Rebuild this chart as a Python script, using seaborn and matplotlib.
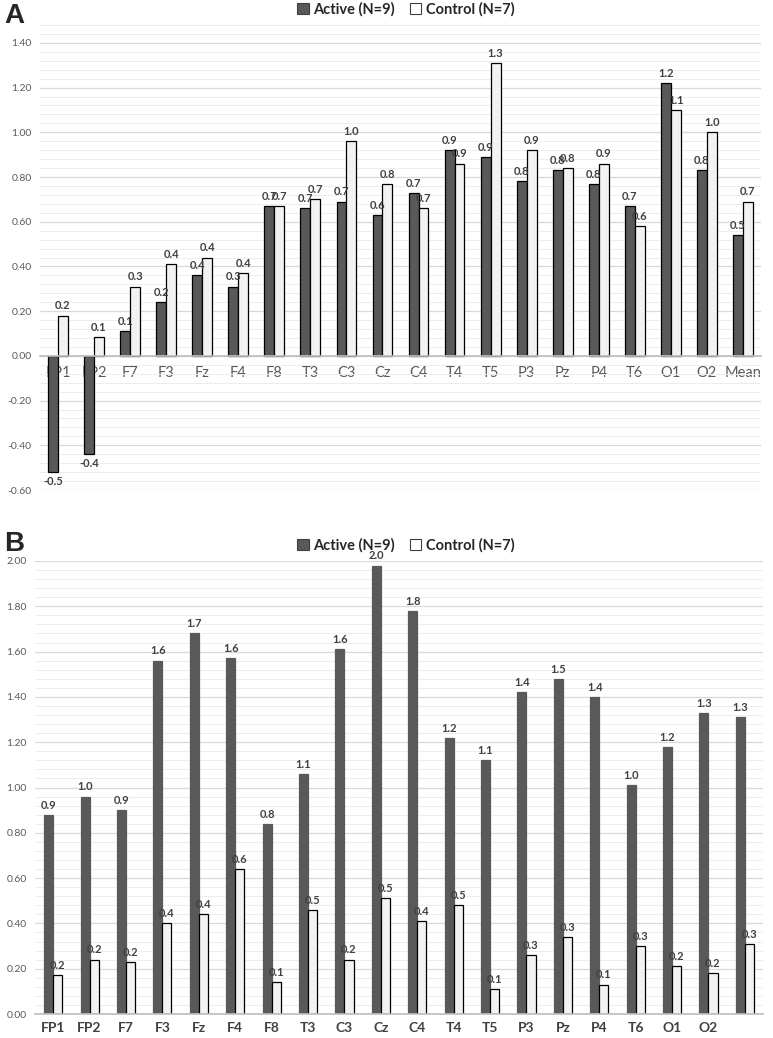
import matplotlib
matplotlib.use("Agg")
import matplotlib.pyplot as plt
from matplotlib.patches import Patch
from matplotlib.ticker import MultipleLocator, FormatStrFormatter
import seaborn as sns
import pandas as pd

sns.set_theme(style="white")
plt.rcParams['font.family'] = ['Lato', 'DejaVu Sans']

groups = ["Active (N=9)", "Control (N=7)"]

# Panel A
cats_a = ["FP1", "FP2", "F7", "F3", "Fz", "F4", "F8", "T3", "C3", "Cz", "C4",
          "T4", "T5", "P3", "Pz", "P4", "T6", "O1", "O2", "Mean"]
active_a = [-0.52, -0.44, 0.11, 0.24, 0.36, 0.31, 0.67, 0.66, 0.69, 0.63, 0.73,
            0.92, 0.89, 0.78, 0.83, 0.77, 0.67, 1.22, 0.83, 0.54]
control_a = [0.18, 0.085, 0.31, 0.41, 0.44, 0.37, 0.67, 0.70, 0.96, 0.77, 0.66,
             0.86, 1.31, 0.92, 0.84, 0.86, 0.58, 1.10, 1.00, 0.69]

# Panel B
cats_b = ["FP1", "FP2", "F7", "F3", "Fz", "F4", "F8", "T3", "C3", "Cz", "C4",
          "T4", "T5", "P3", "Pz", "P4", "T6", "O1", "O2", ""]
active_b = [0.88, 0.96, 0.90, 1.56, 1.68, 1.57, 0.84, 1.06, 1.61, 1.98, 1.78,
            1.22, 1.12, 1.42, 1.48, 1.40, 1.01, 1.18, 1.33, 1.31]
control_b = [0.17, 0.24, 0.23, 0.40, 0.44, 0.64, 0.14, 0.46, 0.24, 0.51, 0.41,
             0.48, 0.11, 0.26, 0.34, 0.13, 0.30, 0.21, 0.18, 0.31]

dark = "#595959"
light = "#F2F2F2"
txt = "#404040"


def long_df(cats, a, c):
    return pd.DataFrame({
        "cat": cats + cats,
        "val": a + c,
        "grp": [groups[0]] * len(cats) + [groups[1]] * len(cats),
    })


fig = plt.figure(figsize=(7.73, 10.38), dpi=100)
ax1 = fig.add_axes([40 / 773, 1 - 490 / 1038, 721 / 773, 465 / 1038])
ax2 = fig.add_axes([35 / 773, 24 / 1038, 728 / 773, 453 / 1038])


def style_axis(ax, ymin, ymax):
    ax.set_ylim(ymin, ymax)
    ax.yaxis.set_major_locator(MultipleLocator(0.2))
    ax.yaxis.set_minor_locator(MultipleLocator(0.04))
    ax.yaxis.set_major_formatter(FormatStrFormatter("%.2f"))
    ax.grid(axis="y", which="major", color="#D9D9D9", linewidth=0.9)
    ax.grid(axis="y", which="minor", color="#EDEDED", linewidth=0.7)
    ax.grid(axis="x", visible=False)
    ax.set_axisbelow(True)
    for s in ["left", "right", "top"]:
        ax.spines[s].set_visible(False)
    ax.spines["bottom"].set_color("#BFBFBF")
    ax.tick_params(axis="y", which="both", length=0, labelsize=7.5, labelcolor="#595959", pad=6)
    ax.tick_params(axis="x", length=0)
    ax.set_xlabel("")
    ax.set_ylabel("")


# Panel A plot
df_a = long_df(cats_a, active_a, control_a)
sns.barplot(data=df_a, x="cat", y="val", hue="grp", order=cats_a, hue_order=groups,
            palette=[dark, light], width=0.55, edgecolor="black", linewidth=0.9,
            legend=False, ax=ax1, errorbar=None)
style_axis(ax1, -0.60, 1.48)
ax1.set_xlim(-0.5, len(cats_a) - 0.5)
ax1.spines["bottom"].set_position(("data", 0))
ax1.tick_params(axis="x", labelsize=10.5, labelcolor="#595959", pad=7)
for cont in ax1.containers:
    ax1.bar_label(cont, fmt="%.1f", fontsize=8, fontweight="bold", color=txt, padding=3)

# Panel B plot
df_b = long_df(cats_b, active_b, control_b)
sns.barplot(data=df_b, x="cat", y="val", hue="grp", order=cats_b, hue_order=groups,
            palette=[dark, light], width=0.5, edgecolor="black", linewidth=0.9,
            legend=False, ax=ax2, errorbar=None)
style_axis(ax2, 0.0, 2.0)
ax2.set_xlim(-0.5, len(cats_b) - 0.5)
ax2.tick_params(axis="x", labelsize=10, labelcolor="#404040", pad=6)
for lbl in ax2.get_xticklabels():
    lbl.set_fontweight("bold")
for p in ax2.containers[0]:
    p.set_edgecolor(dark)
for cont in ax2.containers:
    ax2.bar_label(cont, fmt="%.1f", fontsize=8, fontweight="bold", color=txt, padding=3)

# Legends
handles = [Patch(facecolor=dark, edgecolor="#404040", linewidth=0.8, label=groups[0]),
           Patch(facecolor="white", edgecolor="#404040", linewidth=0.8, label=groups[1])]
for yfig in [1 - 9 / 1038, 1 - 545 / 1038]:
    leg = fig.legend(handles=handles, loc="center", bbox_to_anchor=(0.525, yfig), ncol=2,
                     frameon=False, prop={"weight": "bold", "size": 10.5},
                     handlelength=0.8, handleheight=0.8, handletextpad=0.3, columnspacing=1.0)
    for t in leg.get_texts():
        t.set_color("#262626")

fig.text(0.005, 1 - 16 / 1038, "A", fontsize=20, fontweight="bold", va="center", ha="left",
         family=["Liberation Sans", "DejaVu Sans"])
fig.text(0.005, 1 - 544 / 1038, "B", fontsize=20, fontweight="bold", va="center", ha="left",
         family=["Liberation Sans", "DejaVu Sans"])

fig.savefig("out.png", dpi=100)
